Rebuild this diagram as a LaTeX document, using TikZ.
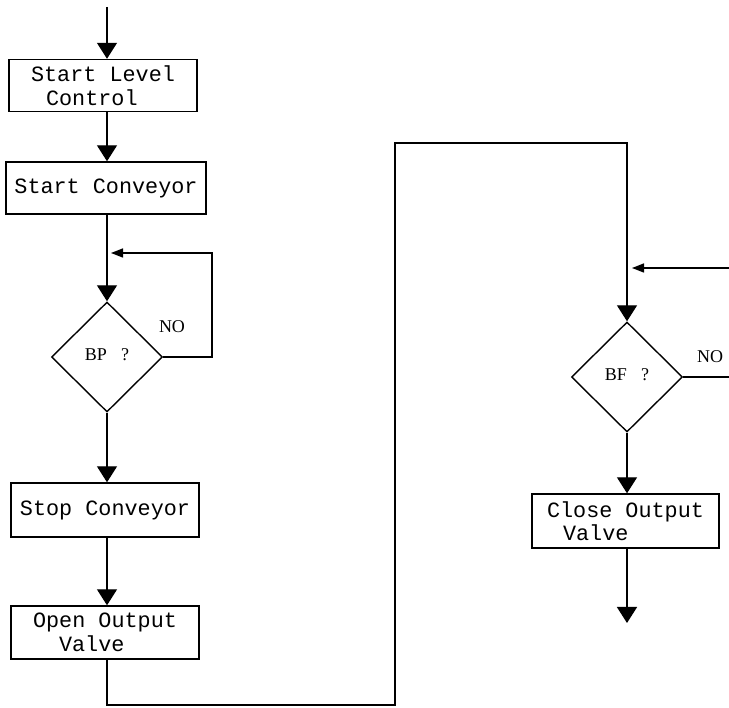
\documentclass[tikz,border=0pt]{standalone}
\usepackage{fontspec}
\setmainfont{Liberation Serif}
\newfontfamily\boxfont{Liberation Mono}
\usetikzlibrary{shapes.geometric,arrows.meta}
\tikzset{
  procbox/.style={draw,line width=1.4pt,inner sep=0pt,minimum height=52pt,
    font=\boxfont\fontsize{21.8}{23.5}\selectfont},
  decision/.style={draw,diamond,line width=1.4pt,inner sep=0pt,aspect=1,
    minimum width=111pt,minimum height=110pt,font=\fontsize{18}{20}\selectfont},
  lbl/.style={font=\fontsize{18}{20}\selectfont,inner sep=0pt},
  arr/.style={line width=1.4pt,-{Triangle[width=20pt,length=16pt]}},
  sarr/.style={line width=1.4pt,-{Triangle[width=9pt,length=12pt]}},
  ln/.style={line width=1.4pt}
}
\begin{document}
\begin{tikzpicture}[x=1pt,y=-1pt]
\useasboundingbox (0,0) rectangle (729,708);
% nodes
\node[procbox,minimum width=188pt,align=left] (b1) at (103,85.5) {Start Level\\\hspace*{15pt}Control};
\node[procbox,minimum width=200pt] (b2) at (106,188) {Start Conveyor};
\node[decision] (d1) at (107,357) {\raisebox{5pt}{BP\hspace{0.8em}?}};
\node[procbox,minimum width=188pt,minimum height=54pt] (b3) at (105,510) {Stop Conveyor};
\node[procbox,minimum width=188pt,minimum height=53pt,align=left] (b4) at (105,632.5) {Open Output\\\hspace*{26pt}Valve};
\node[decision] (d2) at (627,377) {\raisebox{5pt}{BF\hspace{0.8em}?}};
\node[procbox,minimum width=187pt,minimum height=54pt,align=left] (b5) at (625.5,521) {Close Output\\\hspace*{16pt}Valve};
\node[lbl] (no1) at (172,327) {NO};
\node[lbl] (no2) at (710,357) {NO};
% coordinates
\coordinate (start) at (107,7);
\coordinate (l1) at (212,357);
\coordinate (l2) at (212,253);
\coordinate (l3) at (111,253);
\coordinate (c1) at (107,705);
\coordinate (c2) at (395,705);
\coordinate (c3) at (395,143);
\coordinate (c4) at (627,143);
\coordinate (r1) at (729,268);
\coordinate (r2) at (632,268);
\coordinate (r3) at (729,377);
\coordinate (endp) at (627,623);
% connectors
\draw[arr] (start) -- (b1.north -| start);
\draw[arr] (b1.south -| start) -- (b2.north -| start);
\draw[arr] (b2.south -| d1.north) -- (d1.north);
\draw[sarr] (d1.east) -- (l1) -- (l2) -- (l3);
\draw[arr] (d1.south) -- (b3.north -| d1.south);
\draw[arr] (b3.south -| d1.south) -- (b4.north -| d1.south);
\draw[arr] (b4.south -| c1) -- (c1) -- (c2) -- (c3) -- (c4) -- (d2.north);
\draw[sarr] (r1) -- (r2);
\draw[ln] (d2.east) -- (r3);
\draw[arr] (d2.south) -- (b5.north -| d2.south);
\draw[arr] (b5.south -| d2.south) -- (endp);
\end{tikzpicture}
\end{document}
